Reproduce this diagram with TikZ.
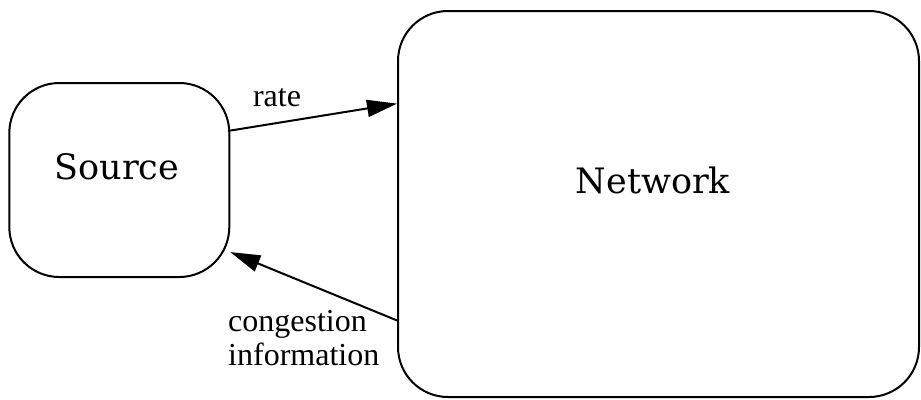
\documentclass[tikz,border=0pt]{standalone}
\usepackage{fontspec}
\setmainfont{Liberation Serif}
\newfontfamily\boxfont{DejaVu Serif}
\usetikzlibrary{arrows.meta}
\begin{document}
\begin{tikzpicture}[x=1pt,y=-1pt,
  blockbox/.style={draw=black, line width=2pt, rounded corners=50pt, inner sep=0pt},
  blocklabel/.style={font=\boxfont\fontsize{35}{40}\selectfont, inner sep=0pt},
  edgelabel/.style={font=\fontsize{32}{34}\selectfont, inner sep=0pt},
  flow/.style={line width=2pt, -{Triangle[length=30pt,width=17pt]}}]
\useasboundingbox (0,0) rectangle (921,399);
\node[blockbox, minimum width=220pt, minimum height=194pt] (src) at (119.3,180) {};
\node[blocklabel] (srclabel) at (117,167) {Source};
\node[blockbox, minimum width=521pt, minimum height=386pt] (net) at (658.5,204) {};
\node[blocklabel] (netlabel) at (653,180) {Network};
\draw[flow] (src.24) -- (net.159.9);
\draw[flow] (net.204.8) -- (src.-33.8);
\node[edgelabel, anchor=base] (rate) at (277,106.7) {rate};
\node[edgelabel, anchor=base west] (cong) at (228,331.7) {congestion};
\node[edgelabel, anchor=base west] (info) at (228,365) {information};
\end{tikzpicture}
\end{document}
